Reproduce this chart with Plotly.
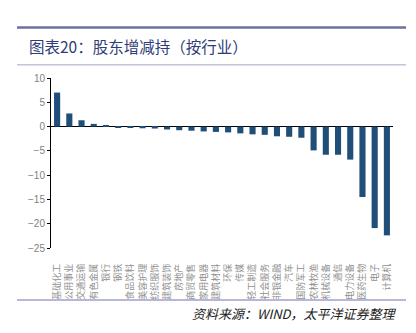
import plotly.graph_objects as go

categories = ["基础化工", "公用事业", "交通运输", "有色金属", "银行", "钢铁", "食品饮料",
              "美容护理", "纺织服饰", "建筑装饰", "房地产", "商贸零售", "家用电器", "建筑材料",
              "环保", "传媒", "轻工制造", "社会服务", "非银金融", "汽车", "国防军工",
              "农林牧渔", "机械设备", "通信", "电力设备", "医药生物", "电子", "计算机"]
values = [7.0, 2.7, 1.3, 0.55, 0.2, -0.25, -0.3, -0.35, -0.4, -0.6, -0.75, -0.85, -1.0, -1.1,
          -1.2, -1.4, -1.6, -1.7, -2.0, -2.1, -2.3, -4.9, -5.8, -5.8, -6.8, -14.5, -20.9, -22.4]
y_ticks = [10, 5, 0, -5, -10, -15, -20, -25]

W, H = 416, 333
L, R, T, B = 51, 393, 77.7, 248

def px(x):
    return (x - L) / (R - L)

def py(y):
    return (B - y) / (B - T)

fig = go.Figure(go.Bar(
    x=categories, y=values,
    marker=dict(color="#1f4e79", line=dict(width=0)),
    width=0.5,
))

fig.update_layout(
    width=W, height=H,
    margin=dict(l=L, r=W - R, t=T, b=H - B, autoexpand=False),
    paper_bgcolor="white", plot_bgcolor="white",
    showlegend=False,
    xaxis=dict(
        type="category", showgrid=False, showline=False, zeroline=False,
        ticks="", tickangle=-90, automargin=False, ticklabelstandoff=13,
        tickfont=dict(family="Noto Sans CJK SC", size=9, color="#909090"),
        range=[-0.5, len(categories) - 0.5],
    ),
    yaxis=dict(
        range=[-25, 10], tickvals=y_ticks, showgrid=False, zeroline=True,
        zerolinecolor="black", zerolinewidth=1,
        showline=True, linecolor="black", linewidth=1,
        ticks="outside", ticklen=3, tickcolor="black",
        tickfont=dict(family="Liberation Sans", size=10, color="#7f7f7f"),
        automargin=False,
    ),
    shapes=[
        dict(type="line", xref="paper", yref="paper", x0=px(17), x1=px(406), y0=py(27), y1=py(27),
             line=dict(color="#6f6f9f", width=2.5)),
        dict(type="line", xref="paper", yref="paper", x0=px(17), x1=px(406), y0=py(64.5), y1=py(64.5),
             line=dict(color="#c3c3dd", width=1.5)),
        dict(type="line", xref="paper", yref="paper", x0=px(17), x1=px(406), y0=py(300), y1=py(300),
             line=dict(color="#a0a0c8", width=1.5)),
    ],
    annotations=[
        dict(text="图表20：股东增减持（按行业）", xref="paper", yref="paper",
             x=px(27), y=py(46), xanchor="left", yanchor="middle", showarrow=False,
             font=dict(family="Noto Sans CJK SC", size=15.5, color="#2e3d78")),
        dict(text="<i>资料来源：WIND，太平洋证券整理</i>", xref="paper", yref="paper",
             x=px(399), y=py(314), xanchor="right", yanchor="middle", showarrow=False,
             font=dict(family="Noto Sans CJK SC", size=13, color="#222222")),
    ],
)

fig.write_html("out.html")
